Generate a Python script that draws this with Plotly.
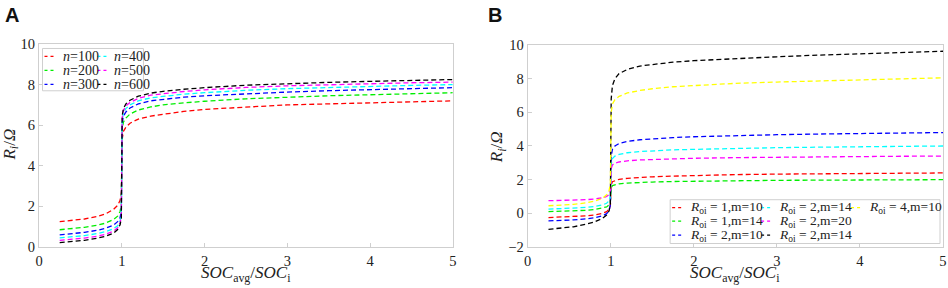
import plotly.graph_objects as go

W, H = 948, 288

# ---------------- data ----------------
x_vals = [0.25, 0.4, 0.55, 0.7, 0.8, 0.9, 0.95, 0.98, 0.995, 1.0, 1.005, 1.02, 1.05,
          1.1, 1.2, 1.35, 1.5, 1.75, 2.0, 2.5, 3.0, 3.5, 4.0, 4.5, 5.0]

# Panel A
a_names = ["n=100", "n=200", "n=300", "n=400", "n=500", "n=600"]
a_n100 = [1.25, 1.3, 1.38, 1.5, 1.62, 1.85, 2.05, 2.3, 2.7, 4.0, 5.3, 5.7, 5.9,
          6.1, 6.3, 6.45, 6.55, 6.68, 6.78, 6.9, 7.0, 7.05, 7.1, 7.15, 7.2]
a_n200 = [0.85, 0.9, 0.97, 1.07, 1.17, 1.35, 1.52, 1.75, 2.1, 4.0, 5.8, 6.15, 6.35,
          6.55, 6.75, 6.9, 7.0, 7.1, 7.18, 7.3, 7.38, 7.45, 7.5, 7.55, 7.6]
a_n300 = [0.6, 0.65, 0.72, 0.82, 0.92, 1.08, 1.25, 1.45, 1.8, 4.0, 6.1, 6.45, 6.65,
          6.85, 7.05, 7.2, 7.28, 7.38, 7.45, 7.55, 7.63, 7.7, 7.75, 7.8, 7.85]
a_n400 = [0.45, 0.5, 0.56, 0.66, 0.75, 0.9, 1.05, 1.28, 1.6, 4.0, 6.25, 6.6, 6.82,
          7.0, 7.2, 7.35, 7.43, 7.53, 7.6, 7.72, 7.8, 7.86, 7.92, 7.96, 8.0]
a_n500 = [0.33, 0.38, 0.44, 0.53, 0.62, 0.78, 0.95, 1.18, 1.5, 4.0, 6.35, 6.72, 6.95,
          7.12, 7.32, 7.48, 7.56, 7.66, 7.74, 7.86, 7.94, 8.0, 8.05, 8.09, 8.12]
a_n600 = [0.22, 0.27, 0.33, 0.43, 0.52, 0.68, 0.86, 1.1, 1.42, 4.0, 6.45, 6.82, 7.05,
          7.23, 7.43, 7.58, 7.67, 7.77, 7.85, 7.97, 8.05, 8.11, 8.16, 8.2, 8.25]
a_colors = ["#ff0000", "#00ee00", "#0000ff", "#00ffff", "#ff00ff", "#000000"]

# Panel B
b_names = ["<i>R</i><sub>oi</sub> = 1,m=10", "<i>R</i><sub>oi</sub> = 1,m=14",
           "<i>R</i><sub>oi</sub> = 2,m=10", "<i>R</i><sub>oi</sub> = 2,m=14",
           "<i>R</i><sub>oi</sub> = 2,m=20", "<i>R</i><sub>oi</sub> = 2,m=14",
           "<i>R</i><sub>oi</sub> = 4,m=10"]
b_r1m10 = [-0.25, -0.23, -0.2, -0.15, -0.1, 0.0, 0.1, 0.25, 0.45, 1.0, 1.7, 1.88, 1.95,
           2.02, 2.08, 2.13, 2.17, 2.21, 2.25, 2.3, 2.33, 2.35, 2.37, 2.39, 2.4]
b_r1m14 = [0.1, 0.12, 0.14, 0.18, 0.22, 0.3, 0.38, 0.5, 0.7, 1.1, 1.5, 1.65, 1.7,
           1.75, 1.8, 1.84, 1.86, 1.89, 1.91, 1.94, 1.96, 1.97, 1.98, 1.99, 2.0]
b_r2m10 = [-0.45, -0.43, -0.39, -0.33, -0.27, -0.15, -0.02, 0.18, 0.5, 2.0, 3.4, 3.8, 4.0,
           4.15, 4.27, 4.37, 4.43, 4.5, 4.55, 4.62, 4.67, 4.71, 4.74, 4.77, 4.8]
b_r2m14 = [0.25, 0.27, 0.3, 0.35, 0.4, 0.5, 0.6, 0.75, 1.0, 2.0, 2.9, 3.25, 3.4,
           3.5, 3.6, 3.67, 3.72, 3.77, 3.8, 3.86, 3.9, 3.93, 3.96, 3.98, 4.0]
b_r2m20 = [0.75, 0.76, 0.78, 0.81, 0.85, 0.92, 1.0, 1.12, 1.35, 2.0, 2.65, 2.88, 2.98,
           3.05, 3.12, 3.17, 3.2, 3.24, 3.27, 3.31, 3.34, 3.36, 3.38, 3.39, 3.4]
b_black = [-0.95, -0.88, -0.8, -0.65, -0.52, -0.3, -0.1, 0.15, 0.6, 4.0, 6.8, 7.6, 8.0,
           8.3, 8.55, 8.75, 8.85, 8.98, 9.07, 9.2, 9.3, 9.4, 9.48, 9.56, 9.63]
b_r4m10 = [0.45, 0.48, 0.53, 0.62, 0.72, 0.9, 1.1, 1.35, 1.8, 4.0, 6.0, 6.5, 6.75,
           6.95, 7.15, 7.3, 7.4, 7.52, 7.6, 7.72, 7.8, 7.87, 7.93, 7.99, 8.05]
b_colors = ["#ff0000", "#00ee00", "#0000ff", "#00ffff", "#ff00ff", "#000000", "#ffff00"]

x_ticks = [0, 1, 2, 3, 4, 5]

# ---------------- figure ----------------
a_series = [a_n100, a_n200, a_n300, a_n400, a_n500, a_n600]
b_series = [b_r1m10, b_r1m14, b_r2m10, b_r2m14, b_r2m20, b_black, b_r4m10]

fig = go.Figure()
DASH = "5px,3px"
for name, ys, c in zip(a_names, a_series, a_colors):
    fig.add_trace(go.Scatter(x=x_vals, y=ys, mode="lines", name=name, showlegend=False,
                             line=dict(color=c, width=1.3, dash=DASH), xaxis="x", yaxis="y"))
for name, ys, c in zip(b_names, b_series, b_colors):
    fig.add_trace(go.Scatter(x=x_vals, y=ys, mode="lines", name=name, showlegend=False,
                             line=dict(color=c, width=1.3, dash=DASH), xaxis="x2", yaxis="y2"))

# plot-area geometry (pixels)
ML, MR, MT, MB = 38.5, 5, 43.5, 40.5
PW = W - ML - MR
PH = H - MT - MB

def px(xp):
    return (xp - ML) / PW

def py(yp):
    return 1 - (yp - MT) / PH

SERIF = "Liberation Serif, DejaVu Serif, serif"
FRAME = "#cfcfcf"
TXT = "#222222"
axis_common = dict(showline=True, mirror=True, linecolor=FRAME, linewidth=1.2,
                   ticks="inside", ticklen=4, tickcolor=FRAME, showgrid=False,
                   zeroline=False, automargin=False,
                   tickfont=dict(family=SERIF, size=14.5, color=TXT))

xt = "<i>SOC</i><sub>avg</sub>/<i>SOC</i><sub>i</sub>"
yt = "<i>R</i><sub><i>i</i></sub>/<i>Ω</i>"
title_font = dict(family=SERIF, size=17, color=TXT)

fig.update_layout(
    width=W, height=H, margin=dict(l=ML, r=MR, t=MT, b=MB, autoexpand=False),
    paper_bgcolor="white", plot_bgcolor="white",
    font=dict(family=SERIF, color=TXT),
    xaxis=dict(domain=[0, px(452.5)], range=[0, 5], tickvals=x_ticks, anchor="y", **axis_common),
    yaxis=dict(domain=[0, 1], range=[0, 10], dtick=2, anchor="x", **axis_common),
    xaxis2=dict(domain=[px(527.5), 1], range=[0, 5], tickvals=x_ticks, anchor="y2", **axis_common),
    yaxis2=dict(domain=[0, py(44.5)], range=[-2, 10], dtick=2, anchor="x2", **axis_common),
)

shapes = []
annotations = []

# Axis titles
for cx in ((38.5 + 452.5) / 2, (527.5 + 943) / 2):
    annotations.append(dict(text=xt, x=px(cx), y=py(288), xref="paper", yref="paper",
                            xanchor="center", yanchor="bottom", showarrow=False, font=title_font))
for cx, cy in ((10, 145), (498, 147)):
    annotations.append(dict(text=yt, x=px(cx), y=py(cy), xref="paper", yref="paper", textangle=-90,
                            xanchor="center", yanchor="middle", showarrow=False, font=title_font))

# Panel labels
for lbl, xx in (("A", 2), ("B", 486)):
    annotations.append(dict(text="<b>%s</b>" % lbl, x=px(xx), y=py(1), xref="paper", yref="paper",
                            xanchor="left", yanchor="top", showarrow=False,
                            font=dict(family="Liberation Sans, Arial, sans-serif", size=20, color="#111")))

# Manual legend, panel A
shapes.append(dict(type="rect", xref="paper", yref="paper", x0=px(42), x1=px(143), y0=py(48), y1=py(90.5),
                   line=dict(color=FRAME, width=1), fillcolor="white", layer="above"))
a_cols = [(44, 61), (97, 112)]
a_rows = [56, 70, 84]
for i, (name, c) in enumerate(zip(a_names, a_colors)):
    col, row = divmod(i, 3)
    lx, tx = a_cols[col]
    yy = a_rows[row]
    shapes.append(dict(type="line", xref="paper", yref="paper", x0=px(lx), x1=px(lx + 12), y0=py(yy), y1=py(yy),
                       line=dict(color=c, width=1.3, dash="3px,3px"), layer="above"))
    annotations.append(dict(text="<i>n</i>=" + name.split("=")[1], x=px(tx), y=py(yy), xref="paper", yref="paper",
                            xanchor="left", yanchor="middle", showarrow=False,
                            font=dict(family=SERIF, size=14, color=TXT)))

# Manual legend, panel B
shapes.append(dict(type="rect", xref="paper", yref="paper", x0=px(670), x1=px(940), y0=py(200), y1=py(244),
                   line=dict(color=FRAME, width=1), fillcolor="white", layer="above"))
b_cols = [(672, 688), (761, 777), (851, 867)]
b_rows = [208, 221.5, 235.5]
for i, (name, c) in enumerate(zip(b_names, b_colors)):
    col, row = divmod(i, 3)
    lx, tx = b_cols[col]
    yy = b_rows[row]
    shapes.append(dict(type="line", xref="paper", yref="paper", x0=px(lx), x1=px(lx + 12), y0=py(yy), y1=py(yy),
                       line=dict(color=c, width=1.3, dash="3px,3px"), layer="above"))
    annotations.append(dict(text=name, x=px(tx), y=py(yy), xref="paper", yref="paper",
                            xanchor="left", yanchor="middle", showarrow=False,
                            font=dict(family=SERIF, size=13.5, color=TXT)))

fig.update_layout(shapes=shapes, annotations=annotations)
fig.write_html("out.html", config={"displayModeBar": False},
               post_script="document.body.style.margin='0';document.body.style.padding='0';")
